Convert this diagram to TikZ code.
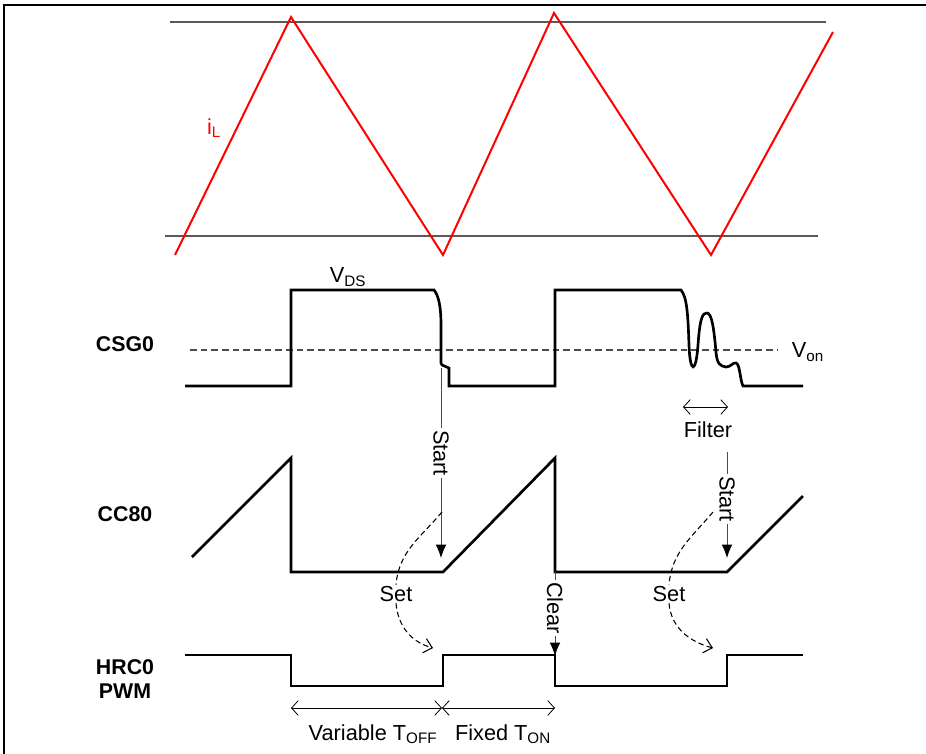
\documentclass[tikz,border=0pt]{standalone}
\usepackage{fontspec}
\setmainfont{Liberation Sans}
\usepackage{tikz}
\usetikzlibrary{arrows.meta, positioning, calc}

\tikzset{
  wave/.style={line width=2pt, line join=miter},
  ilwave/.style={red, line width=1.5pt},
  refline/.style={black!65, line width=0.9pt},
  sig/.style={black!70, line width=0.7pt},
  tip/.style={-{Latex[black, length=10pt, width=8pt]}},
  setline/.style={line width=0.8pt, dash pattern=on 4pt off 2.5pt},
  barb/.style={line width=0.6pt, {Straight Barb[length=5pt,width=11pt]}-{Straight Barb[length=5pt,width=11pt]}},
  lbl/.style={inner sep=1pt},
  vlbl/.style={inner sep=1pt, rotate=-90}
}

\begin{document}
\begin{tikzpicture}[x=0.75pt, y=-0.75pt, font=\fontsize{16.3}{18}\selectfont]
\useasboundingbox (0,0) rectangle (926,754);

% frame
\draw[line width=1.1pt] (3,5) -- (926,5);
\draw[line width=1.1pt] (4,5) -- (4,754);

% inductor current
\draw[refline] (170,22) -- (826,22);
\draw[refline] (165,236) -- (818,236);
\draw[ilwave] (175,255) -- (291,17) -- (443,255) -- (554,13) -- (711,255) -- (833,32);
\node[lbl, red] (il) at (214,128) {i\textsubscript{L}};

% Row labels
\node[font=\fontsize{16}{18}\selectfont\bfseries] (csg) at (125,344) {CSG0};
\node[font=\fontsize{16}{18}\selectfont\bfseries] (cc) at (125,514) {CC80};
\node[font=\fontsize{16}{18}\selectfont\bfseries, align=center] (hrc) at (125,679) {HRC0\\PWM};

% CSG0
\draw[black!70, line width=1pt, dash pattern=on 5pt off 3pt] (190,350) -- (778,350);
\node[lbl] (von) at (808,352) {V\textsubscript{on}};
\node[lbl] (vds) at (348,277) {V\textsubscript{DS}};
\draw[wave] (185,386) -- (291,386) -- (291,290) -- (434,290)
  .. controls (439,296) and (441,308) .. (441,325) -- (441,363)
  -- (442,365) -- (449,368) -- (449,386) -- (555,386) -- (555,290) -- (681,290)
  .. controls (687,297) and (688,315) .. (689,345)
  .. controls (690,374) and (696,374) .. (698,345)
  .. controls (700,316) and (703,313) .. (707,313)
  .. controls (712,313) and (714,330) .. (716,352)
  .. controls (717,364) and (720,366) .. (726,367)
  .. controls (731,367) and (733,362) .. (736,363)
  .. controls (740,364) and (740,380) .. (743,386)
  -- (803,386);

% CC80
\draw[wave] (192,557) -- (291,458) -- (291,572) -- (443,572) -- (555,458)
  -- (555,572) -- (727,572) -- (803,496);

% HRC0 / PWM
\draw[wave] (185,655) -- (291,655) -- (291,686) -- (443,686) -- (443,655)
  -- (555,655) -- (555,686) -- (727,686) -- (727,655) -- (803,655);

% Start, first period
\coordinate (s1top) at (441,368);
\coordinate (s1tip) at (441,558);
\node[vlbl] (start1) at (441,453) {Start};
\draw[sig] (s1top) -- (start1.west);
\draw[sig, tip] (start1.east) -- (s1tip);

% Set, first period
\node[lbl] (set1) at (396,594) {Set};
\coordinate (set1a) at (442,512);
\coordinate (set1b) at (433,648);
\draw[setline] (set1a) to[out=-130, in=85] (set1.north);
\draw[setline, -{Straight Barb[length=6pt,width=11pt]}] (set1.south) to[out=-85, in=165] (set1b);

% Clear
\coordinate (cltop) at (555,572);
\coordinate (cltip) at (555,656);
\node[vlbl] (clear) at (555,608) {Clear};
\draw[sig] (cltop) -- (clear.west);
\draw[sig, tip] (clear.east) -- (cltip);

% Filter
\coordinate (f0) at (683,407);
\coordinate (f1) at (728,407);
\draw[barb] (f0) -- (f1);
\node[lbl] (filter) at (708,430) {Filter};

% Start, second period
\coordinate (s2top) at (727,452);
\coordinate (s2tip) at (727,558);
\node[vlbl] (start2) at (727,499) {Start};
\draw[sig] (s2top) -- (start2.west);
\draw[sig, tip] (start2.east) -- (s2tip);

% Set, second period
\node[lbl] (set2) at (669,594) {Set};
\coordinate (set2a) at (713,512);
\coordinate (set2b) at (713,648);
\draw[setline] (set2a) to[out=-130, in=85] (set2.north);
\draw[setline, -{Straight Barb[length=6pt,width=11pt]}] (set2.south) to[out=-85, in=165] (set2b);

% Timing
\coordinate (d0) at (291,708);
\coordinate (d1) at (442,708);
\coordinate (d2) at (555,708);
\draw[barb] (d0) -- (d1);
\draw[barb] (d1) -- (d2);
\node[lbl] (toff) at (373,734) {Variable T\textsubscript{OFF}};
\node[lbl] (ton) at (503,734) {Fixed T\textsubscript{ON}};
\end{tikzpicture}
\end{document}
